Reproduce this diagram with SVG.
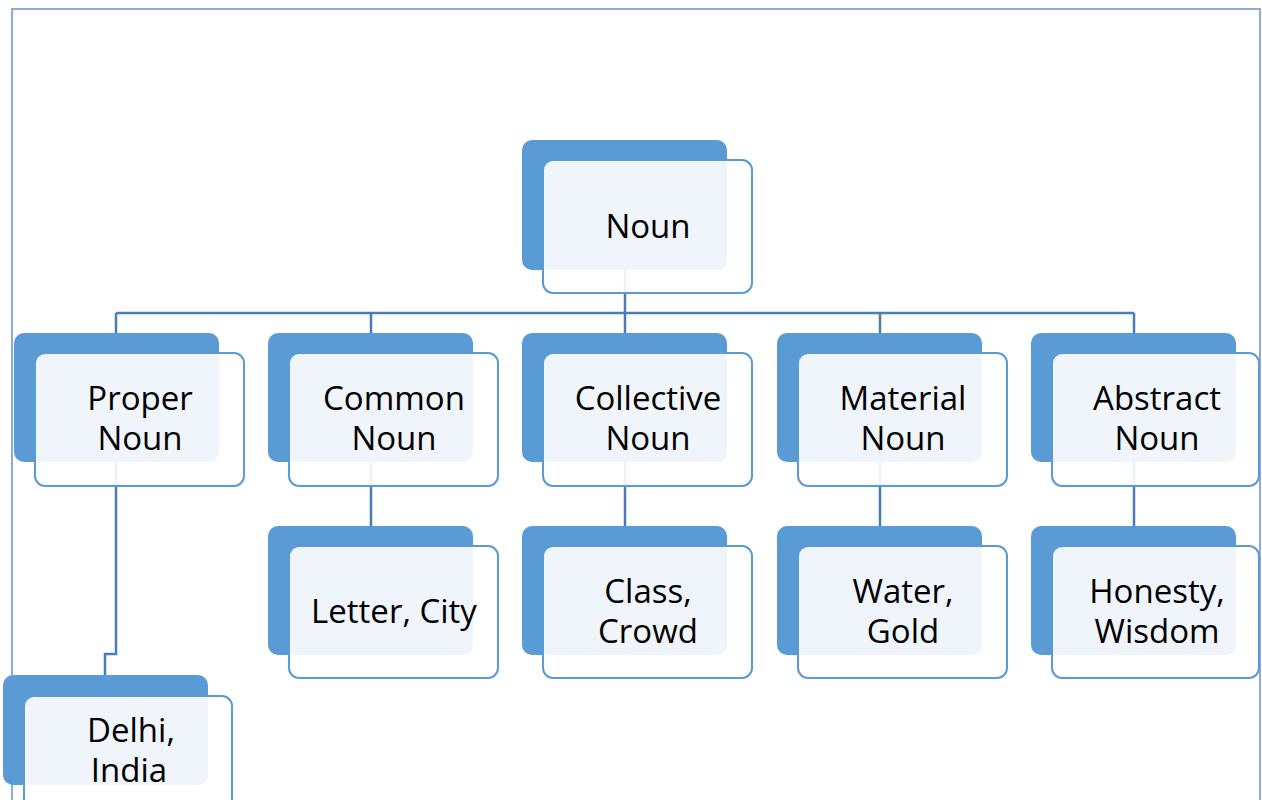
<svg xmlns="http://www.w3.org/2000/svg" width="1262" height="800" viewBox="0 0 1262 800">
<style>
.back{fill:#5b9bd5}
.front{fill:#ffffff;fill-opacity:0.9;stroke:#5b9bd5;stroke-width:2}
.conn{fill:none;stroke:#4a7db5;stroke-width:2.5}
text{font-family:"Open Sans","Noto Sans",sans-serif;font-size:33px;fill:#000;text-anchor:middle}
</style>
<rect x="12" y="9" width="1248" height="800" fill="#ffffff" stroke="#8faadc" stroke-width="2"/>
<g id="connectors">
<path class="conn" d="M625 270V313M116 313H1134M116 313V333M371 313V333M625 313V333M880 313V333M1134 313V333"/>
<path class="conn" d="M371 462V526M625 462V526M880 462V526M1134 462V526"/>
<path class="conn" d="M116 462V654H105V675"/>
</g>
<g id="noun">
<rect class="back" x="522" y="140" width="205" height="130" rx="10"/>
<rect class="front" x="543" y="160" width="209" height="133" rx="10"/>
<text x="648" y="238">Noun</text>
</g>
<g id="proper">
<rect class="back" x="14" y="333" width="205" height="129" rx="10"/>
<rect class="front" x="35" y="353" width="209" height="133" rx="10"/>
<text x="140" y="410">Proper</text><text x="140" y="450">Noun</text>
</g>
<g id="common">
<rect class="back" x="268" y="333" width="205" height="129" rx="10"/>
<rect class="front" x="289" y="353" width="209" height="133" rx="10"/>
<text x="394" y="410">Common</text><text x="394" y="450">Noun</text>
</g>
<g id="collective">
<rect class="back" x="522" y="333" width="205" height="129" rx="10"/>
<rect class="front" x="543" y="353" width="209" height="133" rx="10"/>
<text x="648" y="410">Collective</text><text x="648" y="450">Noun</text>
</g>
<g id="material">
<rect class="back" x="777" y="333" width="205" height="129" rx="10"/>
<rect class="front" x="798" y="353" width="209" height="133" rx="10"/>
<text x="903" y="410">Material</text><text x="903" y="450">Noun</text>
</g>
<g id="abstract">
<rect class="back" x="1031" y="333" width="205" height="129" rx="10"/>
<rect class="front" x="1052" y="353" width="207" height="133" rx="10"/>
<text x="1157" y="410">Abstract</text><text x="1157" y="450">Noun</text>
</g>
<g id="letter-city">
<rect class="back" x="268" y="526" width="205" height="129" rx="10"/>
<rect class="front" x="289" y="546" width="209" height="132" rx="10"/>
<text x="394" y="623">Letter, City</text>
</g>
<g id="class-crowd">
<rect class="back" x="522" y="526" width="205" height="129" rx="10"/>
<rect class="front" x="543" y="546" width="209" height="132" rx="10"/>
<text x="648" y="603">Class,</text><text x="648" y="643">Crowd</text>
</g>
<g id="water-gold">
<rect class="back" x="777" y="526" width="205" height="129" rx="10"/>
<rect class="front" x="798" y="546" width="209" height="132" rx="10"/>
<text x="903" y="603">Water,</text><text x="903" y="643">Gold</text>
</g>
<g id="honesty-wisdom">
<rect class="back" x="1031" y="526" width="205" height="129" rx="10"/>
<rect class="front" x="1052" y="546" width="207" height="132" rx="10"/>
<text x="1157" y="603">Honesty,</text><text x="1157" y="643">Wisdom</text>
</g>
<g id="delhi-india">
<rect class="back" x="3" y="675" width="205" height="110" rx="10"/>
<rect class="front" x="24" y="696" width="208" height="133" rx="10"/>
<text x="131" y="742">Delhi,</text><text x="129" y="782">India</text>
</g>
</svg>
